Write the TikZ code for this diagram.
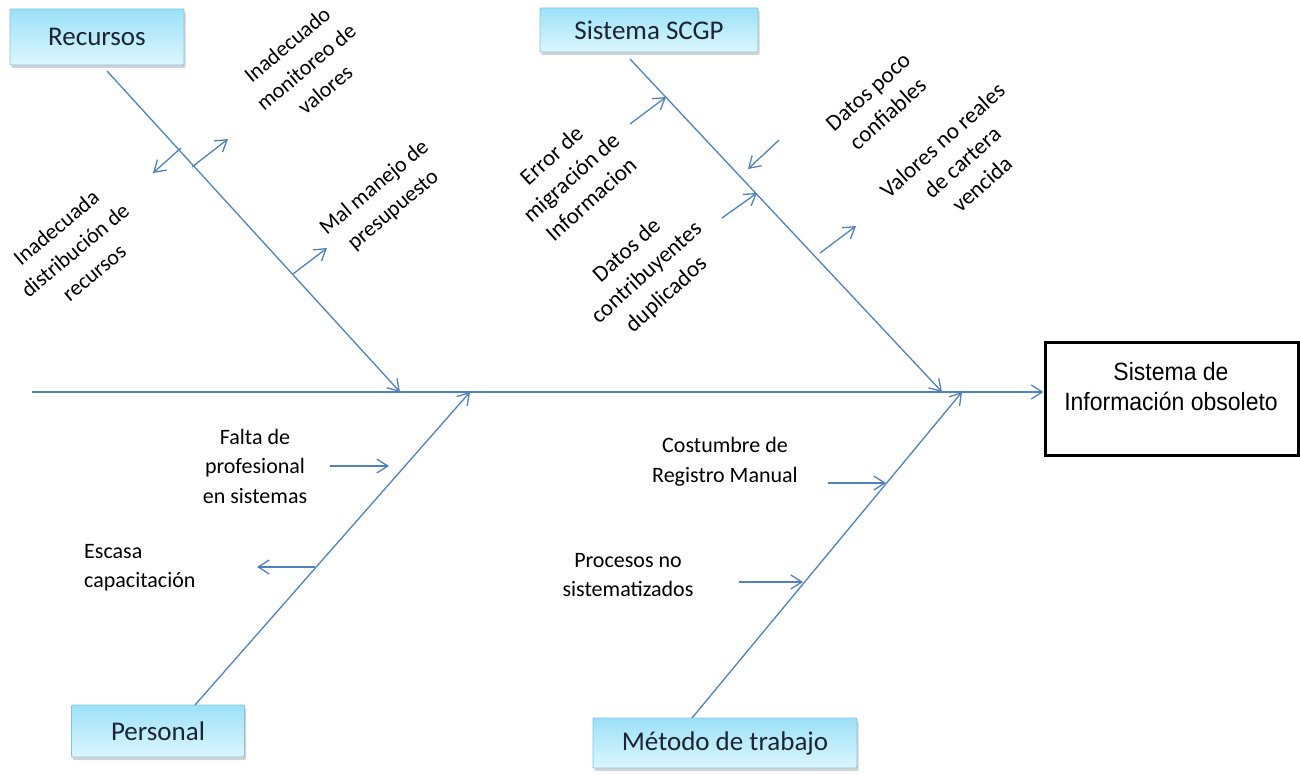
\documentclass[tikz,border=0pt]{standalone}
\usepackage{fontspec}
\setmainfont{Carlito}
\newfontfamily\effectfont[FakeStretch=0.92]{Liberation Sans}
\usetikzlibrary{arrows.meta,shadows}

\definecolor{bonecol}{HTML}{4F81BD}
\definecolor{boxtop}{HTML}{9CE1F8}
\definecolor{boxbot}{HTML}{DCF6FE}
\definecolor{boxedge}{HTML}{86C3D8}
\definecolor{cattext}{HTML}{1B2433}

\begin{document}
\begin{tikzpicture}[x=1pt,y=-1pt,
  bone/.style={draw=bonecol, line width=1.3pt,
    -{Straight Barb[length=11pt,width=14pt]}},
  cat/.style={draw=boxedge, line width=0.8pt, rounded corners=1pt,
    top color=boxtop, bottom color=boxbot, text=cattext,
    font=\fontsize{27}{32}\selectfont, inner sep=0pt,
    drop shadow={opacity=0.35, shadow xshift=1.5pt, shadow yshift=-3pt}},
  effect/.style={draw=black, line width=3pt, fill=white,
    minimum width=253pt, minimum height=113pt, inner sep=0pt},
  effecttext/.style={font=\effectfont\fontsize{25}{30}\selectfont,
    align=center, inner sep=0pt},
  cause/.style={font=\fontsize{22}{29.5}\selectfont, align=center,
    inner sep=0pt},
  tilted/.style={cause, rotate=40},
  tiltedbig/.style={cause, font=\fontsize{23}{29.5}\selectfont, rotate=42}
]
\useasboundingbox (0,0) rectangle (1300,775);

% effect and category boxes
\node[effect] (efecto) at (1171.5,398.5) {};
\node[effecttext] (efectotxt) at (1171,387) {Sistema de\\Información obsoleto};

\node[cat, minimum width=174pt, minimum height=56pt] (recursos) at (97,37) {Recursos};
\node[cat, minimum width=218pt, minimum height=44pt] (scgp) at (649,30) {Sistema SCGP};
\node[cat, minimum width=173pt, minimum height=52pt] (personal) at (158,731) {Personal};
\node[cat, minimum width=264pt, minimum height=50pt] (metodo) at (725,743) {Método de trabajo};

% spine
\coordinate (cola) at (32,392);
\draw[bone] (cola) -- (cola -| efecto.west);

% main bones
\coordinate (r0) at (107,71);   \coordinate (r1) at (400,392);
\coordinate (s0) at (630,59);   \coordinate (s1) at (942,392);
\coordinate (p0) at (195,705);  \coordinate (p1) at (470,392);
\coordinate (m0) at (692,718);  \coordinate (m1) at (962,392);
\draw[bone] (r0) -- (r1);
\draw[bone] (s0) -- (s1);
\draw[bone] (p0) -- (p1);
\draw[bone] (m0) -- (m1);

% Recursos causes
\coordinate (ra0) at (181,148); \coordinate (ra1) at (153,173);
\coordinate (rb0) at (192,167); \coordinate (rb1) at (228,139);
\coordinate (rc0) at (293,274); \coordinate (rc1) at (327,248);
\draw[bone] (ra0) -- (ra1);
\draw[bone] (rb0) -- (rb1);
\draw[bone] (rc0) -- (rc1);
\node[tilted] (tmonitoreo) at (306,67) {Inadecuado\\monitoreo de\\valores};
\node[tilted] (tpresupuesto) at (384,199) {Mal manejo de\\presupuesto};
\node[tilted] (tdistribucion) at (75,250) {Inadecuada\\distribución de\\recursos};

% Sistema SCGP causes
\coordinate (sa0) at (630,124); \coordinate (sa1) at (666,97);
\coordinate (sb0) at (779,140); \coordinate (sb1) at (748,169);
\coordinate (sc0) at (722,218); \coordinate (sc1) at (757,193);
\coordinate (sd0) at (820,253); \coordinate (sd1) at (856,226);
\draw[bone] (sa0) -- (sa1);
\draw[bone] (sb0) -- (sb1);
\draw[bone] (sc0) -- (sc1);
\draw[bone] (sd0) -- (sd1);
\node[tiltedbig] (terror) at (571,177) {Error de\\migración de\\Informacion};
\node[tiltedbig] (tcontrib) at (647,273) {Datos de\\contribuyentes\\duplicados};
\node[tiltedbig] (tconfiables) at (878,103) {Datos poco\\confiables};
\node[tiltedbig] (tvalores) at (962,162) {Valores no reales\\de cartera\\vencida};

% Personal causes
\coordinate (pa0) at (330,466); \coordinate (pa1) at (389,466);
\coordinate (pb0) at (315,567); \coordinate (pb1) at (257,567);
\draw[bone] (pa0) -- (pa1);
\draw[bone] (pb0) -- (pb1);
\node[cause] (tfalta) at (255,466) {Falta de\\profesional\\en sistemas};
\node[cause, align=left, anchor=west] (tescasa) at (84,567.5) {Escasa\\capacitación};

% Método de trabajo causes
\coordinate (ma0) at (828,483); \coordinate (ma1) at (886,483);
\coordinate (mb0) at (739,582); \coordinate (mb1) at (803,582);
\draw[bone] (ma0) -- (ma1);
\draw[bone] (mb0) -- (mb1);
\node[cause] (tcostumbre) at (725,462) {Costumbre de\\Registro Manual};
\node[cause] (tprocesos) at (628,575) {Procesos no\\sistematizados};
\end{tikzpicture}
\end{document}
